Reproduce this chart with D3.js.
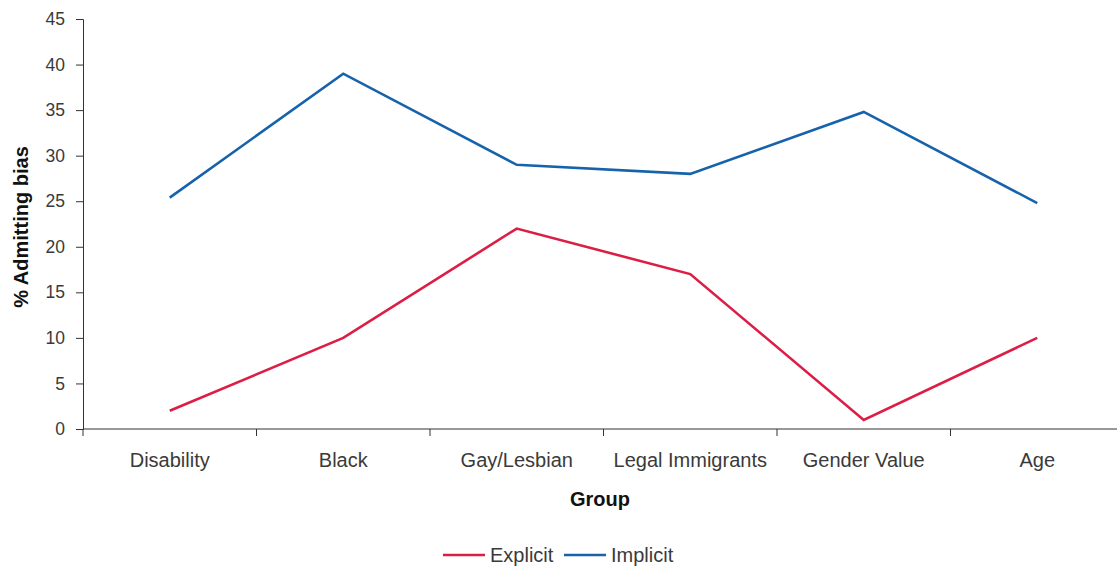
<!DOCTYPE html>
<html>
<head>
<meta charset="utf-8">
<script src="https://cdn.jsdelivr.net/npm/d3@7"></script>
<style>
  body { margin: 0; background: #fff; }
  text { font-family: "Liberation Sans", Arial, sans-serif; }
</style>
</head>
<body>
<div id="chart"></div>
<script>
// Data
const groups = ["Disability", "Black", "Gay/Lesbian", "Legal Immigrants", "Gender Value", "Age"];
const explicitValues = [2, 10, 22, 17, 1, 10];
const implicitValues = [25.4, 39, 29, 28, 34.8, 24.8];
const yTicks = [0, 5, 10, 15, 20, 25, 30, 35, 40, 45];

const series = [
    {name: "Explicit", values: explicitValues, color: "#dc1e46"},
    {name: "Implicit", values: implicitValues, color: "#1662ab"}
];

const W = 1117, H = 568;
const margin = {top: 19, left: 83};
const plotH = 410;
const step = 173.5;

const svg = d3.select("#chart")
    .append("svg")
    .attr("width", W)
    .attr("height", H);

const x = d3.scaleBand()
    .domain(groups)
    .range([margin.left, margin.left + step * groups.length]);

const y = d3.scaleLinear()
    .domain([0, 45])
    .range([margin.top + plotH, margin.top]);

// Y axis
const yAxis = svg.append("g")
    .attr("transform", `translate(${margin.left},0)`)
    .call(d3.axisLeft(y).tickValues(yTicks).tickSize(7).tickPadding(11));
yAxis.selectAll("text").style("font-size", "17.5px").attr("fill", "#3a3a3a");
yAxis.selectAll("line, path").attr("stroke", "#333");

// X axis with ticks on band edges
const xAxis = svg.append("g")
    .attr("transform", `translate(0,${margin.top + plotH})`);
xAxis.append("line")
    .attr("x1", margin.left).attr("x2", W)
    .attr("stroke", "#333");
xAxis.selectAll(".tick")
    .data(groups)
    .enter()
    .append("line")
    .attr("x1", d => x(d)).attr("x2", d => x(d))
    .attr("y1", 0).attr("y2", 7)
    .attr("stroke", "#333");
xAxis.selectAll(".lbl")
    .data(groups)
    .enter()
    .append("text")
    .attr("x", d => x(d) + x.bandwidth() / 2)
    .attr("y", 38)
    .attr("text-anchor", "middle")
    .attr("fill", "#3a3a3a")
    .style("font-size", "20px")
    .text(d => d);

// Lines
const line = d3.line()
    .x((d, i) => x(groups[i]) + x.bandwidth() / 2)
    .y(d => y(d));

svg.selectAll(".series")
    .data(series)
    .enter()
    .append("path")
    .attr("d", d => line(d.values))
    .attr("fill", "none")
    .attr("stroke", d => d.color)
    .attr("stroke-width", 2.6);

// Axis titles
svg.append("text")
    .attr("x", 600)
    .attr("y", 506)
    .attr("text-anchor", "middle")
    .style("font-size", "20px")
    .style("font-weight", "bold")
    .attr("fill", "#111")
    .text("Group");

svg.append("text")
    .attr("transform", `translate(28,${margin.top + plotH / 2 + 3}) rotate(-90)`)
    .attr("text-anchor", "middle")
    .style("font-size", "20px")
    .style("font-weight", "bold")
    .attr("fill", "#111")
    .text("% Admitting bias");

// Legend
const legend = svg.append("g");
const legendPos = [443, 564];
series.forEach((s, i) => {
    legend.append("line")
        .attr("x1", legendPos[i]).attr("x2", legendPos[i] + 42)
        .attr("y1", 555).attr("y2", 555)
        .attr("stroke", s.color)
        .attr("stroke-width", 2.6);
    legend.append("text")
        .attr("x", legendPos[i] + 47)
        .attr("y", 562)
        .attr("fill", "#3a3a3a")
        .style("font-size", "20px")
        .text(s.name);
});
</script>
</body>
</html>
